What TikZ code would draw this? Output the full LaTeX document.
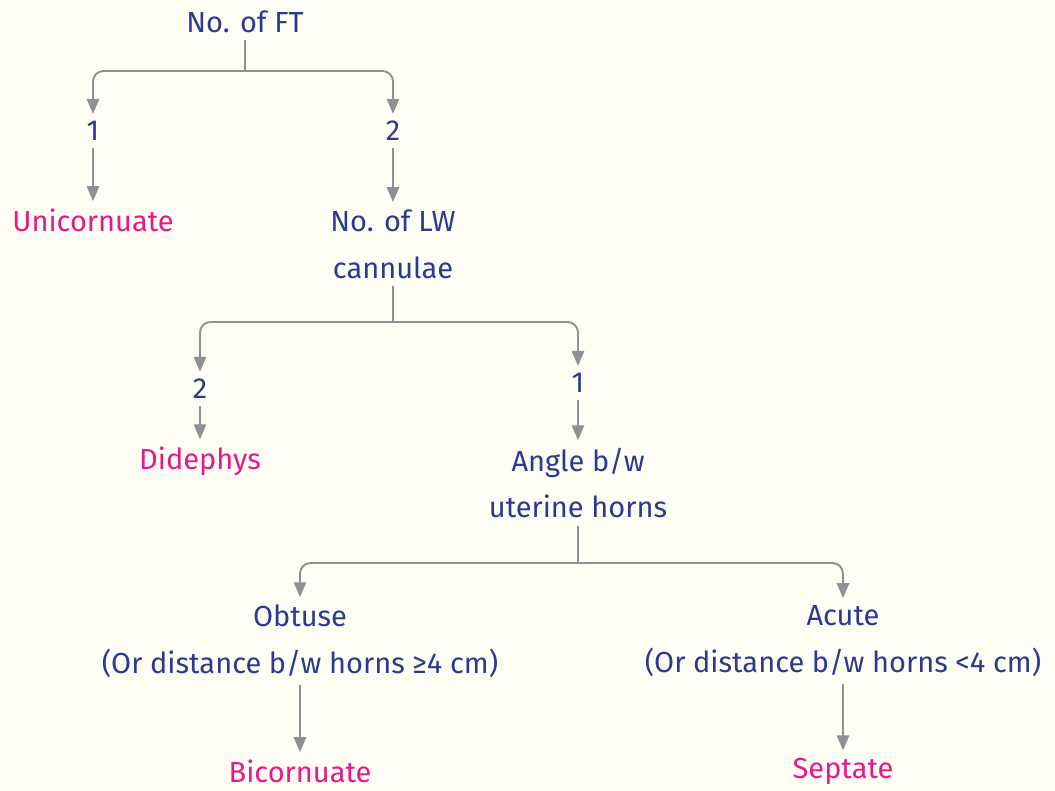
\documentclass[tikz,border=0pt]{standalone}
\usepackage{fontspec}
\setmainfont{Fira Sans}
\usetikzlibrary{arrows.meta,positioning,calc}
\definecolor{Qcolor}{HTML}{2B3A91}
\definecolor{Rcolor}{HTML}{E8188A}
\definecolor{Lcolor}{HTML}{8F9095}
\definecolor{Bgcolor}{HTML}{FEFEF5}

\begin{document}
\begin{tikzpicture}[
  x=0.02cm, y=-0.02cm,
  q/.style={text=Qcolor, font=\fontsize{16.5}{26.7}\selectfont, align=center, inner sep=4pt},
  res/.style={q, text=Rcolor},
  link/.style={draw=Lcolor, line width=1.1pt, rounded corners=6pt},
  arr/.style={link, -{Triangle[length=8.5pt,width=7pt]}},
]
  % Background
  \fill[Bgcolor] (0,0) rectangle (1055,791);
  \useasboundingbox (0,0) rectangle (1055,791);

  % Number of fallopian tubes
  \node[q] (ft) at (245,22) {No. of FT};
  \node[q] (ft1) at (93,131) {1};
  \node[q] (ft2) at (393,131) {2};
  \node[res] (uni) at (93,220) {Unicornuate};

  % Number of cannulae
  \node[q] (lw) at (393,244) {No. of LW\\cannulae};
  \node[q] (lw2) at (200,389) {2};
  \node[q] (lw1) at (578,383) {1};
  \node[res] (did) at (200,461) {Didephys};

  % Angle between horns
  \node[q] (ang) at (578,483) {Angle b/w\\uterine horns};
  \node[q] (obt) at (300,641) {Obtuse\\(Or distance b/w horns ≥4 cm)};
  \node[q] (acu) at (843,641) {Acute\\(Or distance b/w horns <4 cm)};
  \node[res] (bic) at (300,771) {Bicornuate};
  \node[res] (sep) at (843,771) {Septate};

  % Junctions
  \coordinate (j1) at (245,71);
  \coordinate (j2) at (393,322);
  \coordinate (j3) at (578,563);

  % Connectors
  \draw[link] (ft) -- (j1);
  \draw[arr] (j1) -| (ft1);
  \draw[arr] (j1) -| (ft2);
  \draw[arr] (ft1) -- (uni);
  \draw[arr] (ft2) -- (lw);

  \draw[link] (lw) -- (j2);
  \draw[arr] (j2) -| (lw2);
  \draw[arr] (j2) -| (lw1);
  \draw[arr] (lw2) -- (did);
  \draw[arr] (lw1) -- (ang);

  \draw[link] (ang) -- (j3);
  \draw[arr] (j3) -| (obt);
  \draw[arr] (j3) -| (acu);
  \draw[arr] (obt) -- (bic);
  \draw[arr] (acu) -- (sep);
\end{tikzpicture}
\end{document}
